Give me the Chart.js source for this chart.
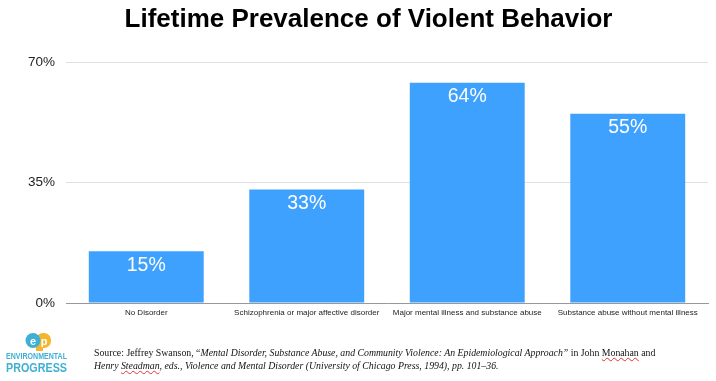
<!DOCTYPE html>
<html>
<head>
<meta charset="utf-8">
<script src="https://cdn.jsdelivr.net/npm/chart.js@4.4.1/dist/chart.umd.min.js"></script>
<style>
  html, body { margin: 0; padding: 0; background: #fff; }
  #wrap { position: relative; width: 716px; height: 381px; overflow: hidden; }
  #c { position: absolute; left: 0; top: 0; }
  #title { position: absolute; left: 0; width: 737px; top: 3px; text-align: center; font: bold 26px "Liberation Sans", Arial, sans-serif; color: #000; white-space: nowrap; }
  #source { position: absolute; left: 94px; top: 347px; font-family: "Liberation Serif", "Times New Roman", serif; font-size: 9.8px; line-height: 12.5px; color: #111; white-space: nowrap; }
  #logo { position: absolute; left: 0; top: 330px; }
</style>
</head>
<body>
<div id="wrap">
  <canvas id="c" width="716" height="381"></canvas>
  <div id="title"></div>
  <svg id="logo" width="75" height="48" xmlns="http://www.w3.org/2000/svg">
    <rect x="36" y="3" width="15" height="15" rx="7" fill="#f5b52e"/>
    <rect x="36" y="10" width="7" height="11" fill="#f5b52e"/>
    <circle cx="33" cy="10.5" r="7.5" fill="#3fb0d3"/>
    <text x="33" y="14.5" text-anchor="middle" font-family="Liberation Sans, Arial" font-weight="bold" font-size="11" fill="#fff">e</text>
    <text x="44" y="14.5" text-anchor="middle" font-family="Liberation Sans, Arial" font-weight="bold" font-size="11" fill="#fff">p</text>
    <text x="6" y="29" font-family="Liberation Sans, Arial" font-weight="bold" font-size="8.3" fill="#3fb0d3" textLength="61" lengthAdjust="spacingAndGlyphs">ENVIRONMENTAL</text>
    <text x="6" y="42" font-family="Liberation Sans, Arial" font-weight="bold" font-size="13.5" fill="#3fb0d3" textLength="61" lengthAdjust="spacingAndGlyphs">PROGRESS</text>
  </svg>
  <div id="source">Source: Jeffrey Swanson, “<i>Mental Disorder, Substance Abuse, and Community Violence: An Epidemiological Approach”</i> in John <u style="text-decoration-color:#d33;text-decoration-style:wavy">Monahan</u> and<br><i>Henry <u style="text-decoration-color:#d33;text-decoration-style:wavy">Steadman</u>, eds., Violence and Mental Disorder (University of Chicago Press, 1994), pp. 101–36.</i></div>
</div>
<script>
const categories = ["No Disorder", "Schizophrenia or major affective disorder", "Major mental illness and substance abuse", "Substance abuse without mental illness"];
const values = [15, 33, 64, 55];
const yTicks = [0, 35, 70];
const titleText = "Lifetime Prevalence of Violent Behavior";

document.getElementById('title').textContent = titleText;

const valueLabels = {
  id: 'valueLabels',
  afterDatasetsDraw(chart) {
    const ctx = chart.ctx;
    const meta = chart.getDatasetMeta(0);
    ctx.save();
    ctx.fillStyle = '#ffffff';
    ctx.font = '19.5px "Liberation Sans", Arial, sans-serif';
    ctx.textAlign = 'center';
    ctx.textBaseline = 'middle';
    meta.data.forEach((bar, i) => {
      ctx.fillText(values[i] + '%', bar.x, bar.y + 14);
    });
    ctx.restore();
  }
};

new Chart(document.getElementById('c'), {
  type: 'bar',
  data: {
    labels: categories,
    datasets: [{
      data: values,
      backgroundColor: '#3fa1fe',
      borderWidth: 0,
      categoryPercentage: 0.716,
      barPercentage: 1.0
    }]
  },
  options: {
    responsive: false,
    animation: false,
    devicePixelRatio: 1,
    layout: { padding: { left: 0, right: 8, top: 62, bottom: 58 } },
    plugins: {
      legend: { display: false },
      tooltip: { enabled: false },
      title: { display: false }
    },
    scales: {
      x: {
        grid: { display: false, drawTicks: false },
        border: { color: '#999', width: 1 },
        afterFit(axis) { axis.height = 20; },
        ticks: {
          color: '#222',
          font: { family: '"Liberation Sans", Arial, sans-serif', size: 8 },
          maxRotation: 0, autoSkip: false, padding: 5
        }
      },
      y: {
        min: 0, max: 70,
        afterBuildTicks(axis) { axis.ticks = yTicks.map(v => ({ value: v })); },
        afterFit(axis) { axis.width = 66; },
        grid: { color: '#e0e0e0', drawTicks: false },
        border: { display: false },
        ticks: {
          color: '#222',
          font: { family: '"Liberation Sans", Arial, sans-serif', size: 13.5 },
          padding: 11,
          callback: v => v + '%'
        }
      }
    }
  },
  plugins: [valueLabels]
});
</script>
</body>
</html>
